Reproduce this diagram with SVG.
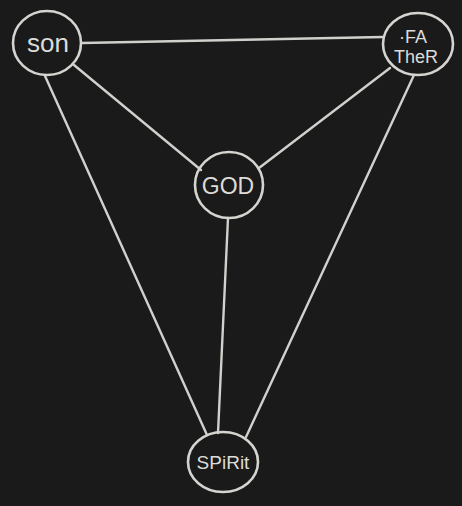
<svg xmlns="http://www.w3.org/2000/svg" width="462" height="506" viewBox="0 0 462 506">
<style>
.n{fill:none;stroke:#d4d4d0;stroke-width:2.6}
.c line{stroke:#d0d0cc;stroke-width:2.4;stroke-linecap:round}
.t{fill:#dcdcd8;font-family:"Liberation Sans","DejaVu Sans",sans-serif;font-size:22px;text-anchor:middle}
</style>
<rect width="462" height="506" fill="#1a1a1a"/>
<g class="c" id="connectors">
<line x1="82" y1="43" x2="383" y2="37"/>
<line x1="74" y1="65" x2="201" y2="170"/>
<line x1="390" y1="68" x2="259" y2="168"/>
<line x1="45" y1="76" x2="207" y2="435"/>
<line x1="414" y1="75" x2="246" y2="437"/>
<line x1="228" y1="218" x2="218" y2="433"/>
</g>
<g id="son"><ellipse class="n" cx="47" cy="43" rx="34" ry="32"/><text class="t" x="48" y="52" style="font-size:26px">son</text></g>
<g id="father"><ellipse class="n" cx="418" cy="44" rx="35" ry="31"/><text class="t" x="413" y="43" style="font-size:18px">·FA</text><text class="t" x="416" y="63" style="font-size:18px">TheR</text></g>
<g id="god"><ellipse class="n" cx="229" cy="185" rx="34" ry="33"/><text class="t" x="228" y="194" style="font-size:23px">GOD</text></g>
<g id="spirit"><ellipse class="n" cx="223" cy="462" rx="35" ry="30"/><text class="t" x="223" y="469" style="font-size:19px">SPiRit</text></g>
</svg>
